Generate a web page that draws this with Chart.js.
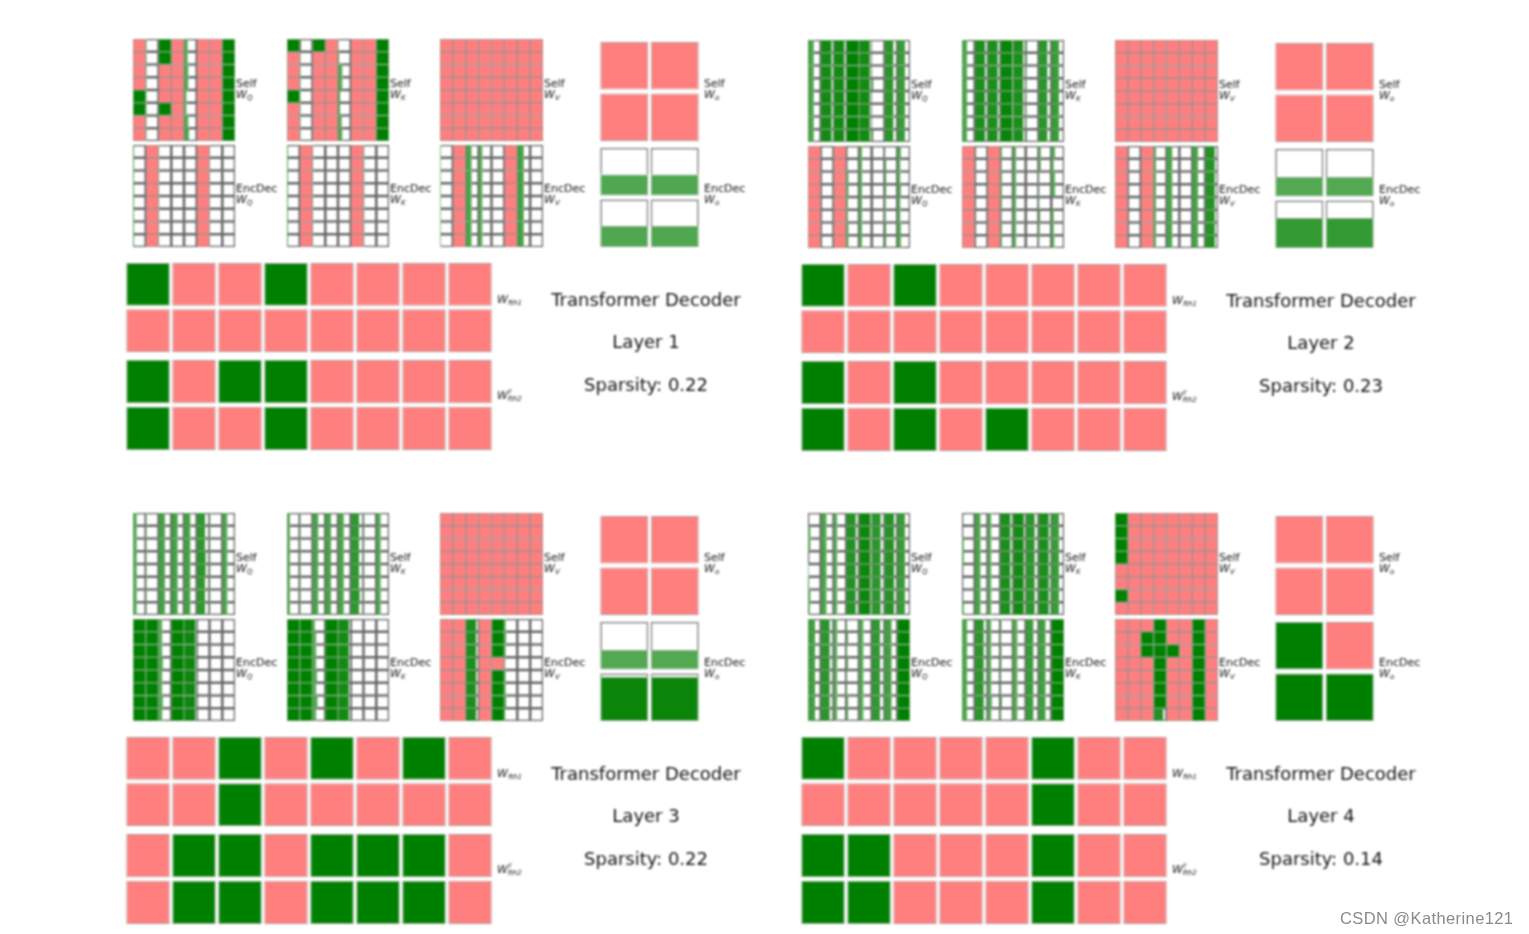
<!DOCTYPE html>
<html>
<head>
<meta charset="utf-8">
<title>Transformer Decoder sparsity</title>
<script src="https://cdn.jsdelivr.net/npm/chart.js@4/dist/chart.umd.min.js"></script>
<style>
html, body { margin: 0; padding: 0; background: #fff; overflow: hidden; }
#page { position: relative; width: 1529px; height: 934px; filter: blur(0.9px); }
#page canvas { position: absolute; }
.txt { position: absolute; font-family: "DejaVu Sans", sans-serif; color: #111; white-space: nowrap; line-height: 1; }
.lbl { font-size: 11px; }
.lbl i { font-family: "DejaVu Sans", sans-serif; font-style: oblique; }
.lbl sub { font-size: 7px; vertical-align: -2px; line-height: 0; }
.lbl sup { font-size: 6px; vertical-align: 5px; line-height: 0; margin-right: -4px; }
.title { font-size: 18px; transform: translateX(-50%); color: #111; }
#mark { position: absolute; left: 1340px; top: 909px; font: 16.5px "Liberation Sans", sans-serif; color: #8a8a8a; letter-spacing: 0.4px; white-space: nowrap; }
</style>
</head>
<body>
<div id="page"></div>
<script>
// P = pruned cell (pink), anything else is the filled share of the cell
const P = -1;

const ROW_NAMES = ['r0', 'r1', 'r2', 'r3', 'r4', 'r5', 'r6', 'r7'];
const COL_NAMES_8 = ['c0', 'c1', 'c2', 'c3', 'c4', 'c5', 'c6', 'c7'];
const COL_NAMES_2 = ['c0', 'c1'];
const LAYER_NAMES = ['Layer 1', 'Layer 2', 'Layer 3', 'Layer 4'];
const SPARSITY = ['0.22', '0.23', '0.22', '0.14'];

const ALL_PINK = [
  [P,P,P,P,P,P,P,P],[P,P,P,P,P,P,P,P],[P,P,P,P,P,P,P,P],[P,P,P,P,P,P,P,P],
  [P,P,P,P,P,P,P,P],[P,P,P,P,P,P,P,P],[P,P,P,P,P,P,P,P],[P,P,P,P,P,P,P,P]
];
const PINK_BLOCK = [[P,P],[P,P]];

/* ---------- Layer 1 ---------- */
const L1_SELF_Q = [
  [P,.05,1,P,.3,P,P,1],[P,.05,1,P,.3,P,P,1],[P,.05,P,P,.35,P,P,1],[P,.05,P,P,.35,P,P,1],
  [1,.05,P,P,.2,P,P,1],[1,.05,1,P,.2,P,P,1],[P,.05,P,P,.35,P,P,1],[P,.05,P,P,.4,P,P,1]
];
const L1_SELF_K = [
  [1,0,1,P,.03,P,P,1],[P,.05,P,P,.1,P,P,1],[P,.05,P,P,.35,P,P,1],[P,.05,P,P,.35,P,P,1],
  [1,.05,P,P,.15,P,P,1],[P,.05,P,P,.15,P,P,1],[P,.05,P,P,.3,P,P,1],[P,.05,P,P,.35,P,P,1]
];
const L1_ENC_Q = [
  [.08,P,.05,0,0,P,.03,0],[.08,P,.05,0,0,P,.03,0],[.08,P,.05,0,0,P,.03,0],[.08,P,.05,0,0,P,.03,0],
  [.08,P,.05,0,0,P,.03,0],[.08,P,.05,0,0,P,.03,0],[.08,P,.05,0,0,P,.03,0],[.08,P,.05,0,0,P,.03,0]
];
const L1_ENC_K = [
  [.08,P,.05,0,0,P,.05,0],[.08,P,.05,0,0,P,.05,0],[.08,P,.05,0,0,P,.05,0],[.08,P,.05,0,0,P,.05,0],
  [.08,P,.05,0,0,P,.05,0],[.08,P,.05,0,0,P,.05,0],[.08,P,.05,0,0,P,.05,0],[.08,P,.05,0,0,P,.05,0]
];
const L1_ENC_V = [
  [.05,P,.45,.3,0,P,.5,0],[.05,P,.45,.3,0,P,.5,0],[.05,P,.45,.3,0,P,.5,0],[.05,P,.45,.3,0,P,.5,0],
  [.05,P,.45,.3,0,P,.5,0],[.05,P,.45,.3,0,P,.5,0],[.05,P,.45,.3,0,P,.5,0],[.05,P,.45,.3,0,P,.5,0]
];
const L1_ENC_A = [[.44,.44],[.44,.44]];
const L1_FTH1 = [[1,P,P,1,P,P,P,P],[P,P,P,P,P,P,P,P]];
const L1_FTH2 = [[1,P,1,1,P,P,P,P],[1,P,P,1,P,P,P,P]];

/* ---------- Layer 2 ---------- */
const L2_SELF_Q = [
  [.45,.85,.85,1,.85,.03,.7,.6],[.45,.85,.85,1,.85,.03,.7,.6],[.45,.85,.85,1,.85,.03,.7,.6],[.45,.85,.85,1,.85,.1,.7,.6],
  [.45,.85,.85,1,.85,.03,.7,.6],[.45,.85,.85,1,.85,.03,.7,.6],[.45,.85,.85,1,.85,.03,.7,.6],[.45,.85,.85,1,.85,.1,.7,.6]
];
const L2_SELF_K = [
  [.4,.8,.8,.95,.8,.1,.7,.6],[.4,.8,.8,.95,.8,.1,.7,.6],[.4,.8,.8,.95,.8,.05,.7,.6],[.4,.8,.8,.95,.8,.05,.7,.6],
  [.4,.8,.8,.95,.8,.05,.7,.6],[.4,.8,.8,.95,.8,.05,.7,.6],[.4,.8,.8,.95,.8,.05,.7,.6],[.4,.8,.8,.95,.8,.1,.7,.6]
];
const L2_ENC_Q = [
  [P,0,P,0,.25,0,.05,.3],[P,0,P,0,.25,0,.1,.25],[P,0,P,.15,.25,0,.1,.25],[P,0,P,.15,.25,0,.1,.3],
  [P,0,P,.1,.25,0,.1,.25],[P,0,P,.1,.25,0,.1,.25],[P,0,P,.15,.25,0,.1,.3],[P,0,P,.15,.25,0,.1,.3]
];
const L2_ENC_K = [
  [P,0,P,.1,.25,0,.15,.3],[P,0,P,0,.25,0,.15,.2],[P,0,P,.1,.25,0,.05,.3],[P,0,P,.1,.25,0,.05,.3],
  [P,0,P,.1,.25,0,.05,0],[P,0,P,0,.25,0,.1,.2],[P,0,P,.1,.25,0,.1,.2],[P,0,P,.1,.25,0,.05,.25]
];
const L2_ENC_V = [
  [P,0,P,.2,.45,0,.45,.75],[P,0,P,.2,.45,0,.45,.75],[P,0,P,.2,.45,0,.45,.75],[P,0,P,.2,.45,0,.45,.75],
  [P,0,P,.2,.45,0,.45,.75],[P,0,P,.2,.45,0,.45,.75],[P,0,P,.2,.45,0,.45,.75],[P,0,P,.2,.45,0,.45,.75]
];
const L2_ENC_A = [[.41,.41],[.63,.63]];
const L2_FTH1 = [[1,P,1,P,P,P,P,P],[P,P,P,P,P,P,P,P]];
const L2_FTH2 = [[1,P,1,P,P,P,P,P],[1,P,1,P,1,P,P,P]];

/* ---------- Layer 3 ---------- */
const L3_SELF_Q = [
  [.3,.05,.5,.5,.5,.65,.05,.4],[.3,.05,.5,.5,.5,.65,.05,.4],[.3,.05,.5,.5,.5,.65,.05,.4],[.3,.05,.5,.5,.5,.7,.05,.4],
  [.3,.05,.5,.5,.5,.7,.05,.4],[.3,.05,.5,.5,.5,.65,.05,.4],[.3,.05,.5,.5,.5,.65,.05,.4],[.3,.05,.5,.5,.5,.65,.05,.4]
];
const L3_SELF_K = [
  [.25,.05,.45,.45,.45,.65,.05,.35],[.25,.05,.45,.45,.45,.65,.05,.35],[.25,.05,.45,.45,.45,.65,.05,.35],[.25,.05,.45,.45,.45,.65,.05,.35],
  [.25,.05,.45,.45,.45,.65,.05,.35],[.25,.05,.45,.45,.45,.65,.05,.35],[.25,.05,.45,.45,.45,.7,.05,.35],[.25,.05,.45,.45,.45,.65,.05,.35]
];
const L3_ENC_Q = [
  [1,1,.3,1,.9,0,0,0],[1,1,.3,1,.9,0,0,0],[1,1,.3,1,.9,0,0,0],[1,1,.35,1,.9,0,0,0],
  [1,1,.3,1,.9,0,0,0],[1,1,.3,1,.9,0,0,0],[1,1,.35,1,.9,0,0,0],[1,1,.3,1,.9,0,0,0]
];
const L3_ENC_K = [
  [1,1,.2,1,.85,0,0,0],[1,1,.3,1,.85,0,0,0],[1,1,.3,1,.85,0,0,0],[1,1,.3,1,.85,0,0,0],
  [1,1,.35,1,.85,0,0,0],[1,1,.3,1,.85,0,0,0],[1,1,.4,1,.85,0,0,0],[1,1,.3,1,.85,0,0,0]
];
const L3_ENC_V = [
  [P,P,.8,P,1,.1,0,0],[P,P,.8,P,1,.15,0,0],[P,P,.8,P,1,.1,0,0],[P,P,.8,P,P,.05,0,0],
  [P,P,.8,P,1,.1,0,0],[P,P,.8,P,1,.1,0,0],[P,P,.8,P,1,.15,0,0],[P,P,.8,P,1,.05,0,0]
];
const L3_ENC_A = [[.41,.41],[.93,.93]];
const L3_FTH1 = [[P,P,1,P,1,P,1,P],[P,P,1,P,P,P,P,P]];
const L3_FTH2 = [[P,1,1,P,1,1,1,P],[P,1,1,P,1,1,1,P]];

/* ---------- Layer 4 ---------- */
const L4_SELF_Q = [
  [0,.45,.3,.75,.9,.7,.75,.6],[.2,.45,.3,.75,.9,.7,.75,.6],[.2,.45,.3,.75,.9,.7,.75,.6],[0,.45,.3,.75,.9,.7,.75,.6],
  [.05,.45,.3,.75,.9,.7,.75,.6],[.1,.45,.3,.75,.9,.7,.75,.6],[.2,.45,.3,.75,.9,.7,.75,.6],[.15,.45,.3,.75,.9,.7,.75,.6]
];
const L4_SELF_K = [
  [0,.45,.3,.8,.85,.7,.8,.6],[0,.45,.3,.8,.85,.7,.8,.6],[.15,.45,.3,.8,.85,.7,.8,.6],[.15,.45,.3,.8,.85,.7,.8,.6],
  [0,.45,.3,.8,.85,.7,.8,.6],[0,.45,.3,.8,.85,.7,.8,.6],[0,.45,.3,.8,.85,.7,.8,.6],[.15,.45,.3,.8,.85,.7,.8,.6]
];
const L4_SELF_V = [
  [1,P,P,P,P,P,P,P],[1,P,P,P,P,P,P,P],[1,P,P,P,P,P,P,P],[1,P,P,P,P,P,P,P],
  [P,P,P,P,P,P,P,P],[P,P,P,P,P,P,P,P],[1,P,P,P,P,P,P,P],[P,P,P,P,P,P,P,P]
];
const L4_ENC_Q = [
  [.55,.7,.3,.05,.35,.65,.55,1],[.55,.7,.3,.15,.35,.65,.55,1],[.55,.7,.3,.05,.35,.65,.55,1],[.55,.7,.3,.15,.35,.65,.55,1],
  [.55,.7,.3,.05,.35,.65,.55,1],[.55,.7,.3,.05,.35,.65,.55,1],[.55,.7,.3,.15,.35,.65,.55,1],[.55,.7,.3,.15,.35,.65,.55,1]
];
const L4_ENC_K = [
  [.4,.7,.3,.1,.35,.6,.55,1],[.4,.7,.3,.05,.35,.6,.55,1],[.4,.7,.3,.1,.35,.6,.55,1],[.4,.7,.3,.1,.35,.6,.55,1],
  [.4,.7,.3,.05,.35,.6,.55,1],[.4,.7,.3,.05,.35,.6,.55,1],[.4,.7,.35,.1,.35,.6,.55,1],[.4,.7,.3,.05,.35,.6,.55,1]
];
const L4_ENC_V = [
  [P,P,P,1,P,P,1,P],[P,P,1,1,P,P,1,P],[P,P,1,1,1,P,1,P],[P,P,P,1,P,P,1,P],
  [P,P,P,1,P,P,1,P],[P,P,P,1,P,P,1,P],[P,P,P,1,P,P,1,P],[P,P,P,.75,P,P,1,P]
];
const L4_ENC_A = [[1,P],[1,1]];
const L4_FTH1 = [[1,P,P,P,P,1,P,P],[P,P,P,P,P,1,P,P]];
const L4_FTH2 = [[1,1,P,P,P,1,P,P],[1,1,P,P,P,1,P,P]];

const LAYERS = [
  { selfQ: L1_SELF_Q, selfK: L1_SELF_K, selfV: ALL_PINK, selfA: PINK_BLOCK, encQ: L1_ENC_Q, encK: L1_ENC_K, encV: L1_ENC_V, encA: L1_ENC_A, fth1: L1_FTH1, fth2: L1_FTH2, dx: 0, dy: 0 },
  { selfQ: L2_SELF_Q, selfK: L2_SELF_K, selfV: ALL_PINK, selfA: PINK_BLOCK, encQ: L2_ENC_Q, encK: L2_ENC_K, encV: L2_ENC_V, encA: L2_ENC_A, fth1: L2_FTH1, fth2: L2_FTH2, dx: 675, dy: 1 },
  { selfQ: L3_SELF_Q, selfK: L3_SELF_K, selfV: ALL_PINK, selfA: PINK_BLOCK, encQ: L3_ENC_Q, encK: L3_ENC_K, encV: L3_ENC_V, encA: L3_ENC_A, fth1: L3_FTH1, fth2: L3_FTH2, dx: 0, dy: 474 },
  { selfQ: L4_SELF_Q, selfK: L4_SELF_K, selfV: L4_SELF_V, selfA: PINK_BLOCK, encQ: L4_ENC_Q, encK: L4_ENC_K, encV: L4_ENC_V, encA: L4_ENC_A, fth1: L4_FTH1, fth2: L4_FTH2, dx: 675, dy: 474 }
];

/* ---------- Helpers ---------- */
const page = document.getElementById('page');
const PINK = '#ff7f7f';
const LINE_EMPTY = '#666666';
const LINE_PINK = '#a58f8f';
const LINE_GREEN = '#6fa56f';
const BLOCK_GAP = 0.085;

// denser cells are a more solid green
function fillColor(v) {
  if (v === P) return PINK;
  return `rgba(0,128,0,${(0.45 + 0.55 * v).toFixed(2)})`;
}
function lineColor(v) {
  return v === P ? LINE_PINK : LINE_GREEN;
}
function addCanvas(x, y, w, h) {
  const c = document.createElement('canvas');
  c.width = w; c.height = h;
  c.style.left = x + 'px'; c.style.top = y + 'px';
  c.style.width = w + 'px'; c.style.height = h + 'px';
  page.appendChild(c);
  return c.getContext('2d');
}
function addText(cls, x, y, html) {
  const d = document.createElement('div');
  d.className = 'txt ' + cls;
  d.style.left = x + 'px'; d.style.top = y + 'px';
  d.innerHTML = html;
  page.appendChild(d);
}
function baseOptions(horizontal, max) {
  const valueAxis = { type: 'linear', display: false, stacked: true, min: 0, max: max };
  const catAxis = { type: 'category', display: false, stacked: true };
  return {
    indexAxis: horizontal ? 'y' : 'x',
    responsive: false,
    animation: false,
    events: [],
    layout: { padding: 0 },
    plugins: { legend: { display: false }, tooltip: { enabled: false } },
    scales: horizontal ? { x: valueAxis, y: catAxis } : { x: catAxis, y: valueAxis }
  };
}

// 8x8 grid: each row a horizontal stack, share filled from the left
function drawGrid(matrix, x, y, w, h) {
  const datasets = [];
  COL_NAMES_8.forEach((name, c) => {
    const col = matrix.map(row => row[c]);
    datasets.push({
      label: name + ' fill',
      data: col.map(v => v === P ? 1 : v),
      backgroundColor: col.map(fillColor),
      borderColor: col.map(lineColor),
      borderSkipped: false,
      borderWidth: col.map(v => v === P || v === 1
        ? { top: 1.1, bottom: 1.1, left: 1.1, right: 1.1 }
        : { top: 1, bottom: 1, left: 1, right: 0 }),
      barPercentage: 1, categoryPercentage: 1
    });
    datasets.push({
      label: name + ' rest',
      data: col.map(v => v === P ? 0 : 1 - v),
      backgroundColor: '#ffffff',
      borderColor: LINE_EMPTY,
      borderSkipped: false,
      borderWidth: col.map(v => ({ top: 1.6, bottom: 1.6, left: v === 0 ? 1.6 : 0, right: 1.6 })),
      barPercentage: 1, categoryPercentage: 1
    });
  });
  new Chart(addCanvas(x, y, w, h), {
    type: 'bar',
    data: { labels: ROW_NAMES, datasets },
    options: baseOptions(true, COL_NAMES_8.length)
  });
}

// 2x2 and 2x8 blocks: each column a vertical stack, share filled from the bottom
function drawBlock(matrix, labels, x, y, w, h, barShare) {
  const datasets = [];
  const rows = matrix.length;
  for (let r = rows - 1; r >= 0; r--) {
    const row = matrix[r];
    datasets.push({
      label: 'row ' + r + ' fill',
      data: row.map(v => v === P ? 1 : v),
      backgroundColor: row.map(fillColor),
      borderColor: row.map(v => v === P ? '#b09a9a' : '#8fa98f'),
      borderSkipped: false,
      borderWidth: 1,
      barPercentage: barShare, categoryPercentage: 1
    });
    datasets.push({
      label: 'row ' + r + ' rest',
      data: row.map(v => v === P ? 0 : 1 - v),
      backgroundColor: '#ffffff',
      borderColor: '#777777',
      borderSkipped: 'bottom',
      borderWidth: 1.6,
      barPercentage: barShare, categoryPercentage: 1
    });
    if (r > 0) {
      datasets.push({
        label: 'gap',
        data: row.map(() => BLOCK_GAP),
        backgroundColor: 'rgba(0,0,0,0)',
        barPercentage: barShare, categoryPercentage: 1
      });
    }
  }
  new Chart(addCanvas(x, y, w, h), {
    type: 'bar',
    data: { labels, datasets },
    options: baseOptions(false, rows + BLOCK_GAP * (rows - 1))
  });
}

function panelLabel(x, y, top, sym) {
  addText('lbl', x, y, top);
  addText('lbl', x, y + 11, `<i>W<sub>${sym}</sub></i>`);
}

/* ---------- Draw ---------- */
LAYERS.forEach((L, i) => {
  const dx = L.dx, dy = L.dy;
  drawGrid(L.selfQ, 133 + dx, 39 + dy, 102, 102);
  drawGrid(L.selfK, 287 + dx, 39 + dy, 102, 102);
  drawGrid(L.selfV, 440 + dx, 39 + dy, 103, 102);
  drawGrid(L.encQ, 133 + dx, 145 + dy, 102, 102);
  drawGrid(L.encK, 287 + dx, 145 + dy, 102, 102);
  drawGrid(L.encV, 440 + dx, 145 + dy, 103, 102);
  drawBlock(L.selfA, COL_NAMES_2, 599 + dx, 42 + dy, 101, 99, 0.95);
  drawBlock(L.encA, COL_NAMES_2, 599 + dx, 148 + dy, 101, 99, 0.95);
  drawBlock(L.fth1, COL_NAMES_8, 125 + dx, 263 + dy, 368, 89, 0.945);
  drawBlock(L.fth2, COL_NAMES_8, 125 + dx, 360 + dy, 368, 90, 0.945);

  [['Q', 236], ['K', 390], ['V', 544], ['o', 704]].forEach(([sym, lx]) => {
    panelLabel(lx + dx, 78 + dy, 'Self', sym);
    panelLabel(lx + dx, 183 + dy, 'EncDec', sym);
  });
  addText('lbl', 497 + dx, 294 + dy, '<i>W<sub>fth1</sub></i>');
  addText('lbl', 497 + dx, 390 + dy, '<i>W<sup>T</sup><sub>fth2</sub></i>');

  addText('title', 646 + dx, 291 + dy, 'Transformer Decoder');
  addText('title', 646 + dx, 333 + dy, LAYER_NAMES[i]);
  addText('title', 646 + dx, 376 + dy, 'Sparsity: ' + SPARSITY[i]);
});

// the watermark sits on top of the picture, it is not blurred with it
const mark = document.createElement('div');
mark.id = 'mark';
mark.textContent = 'CSDN @Katherine121';
document.body.appendChild(mark);
</script>
</body>
</html>
